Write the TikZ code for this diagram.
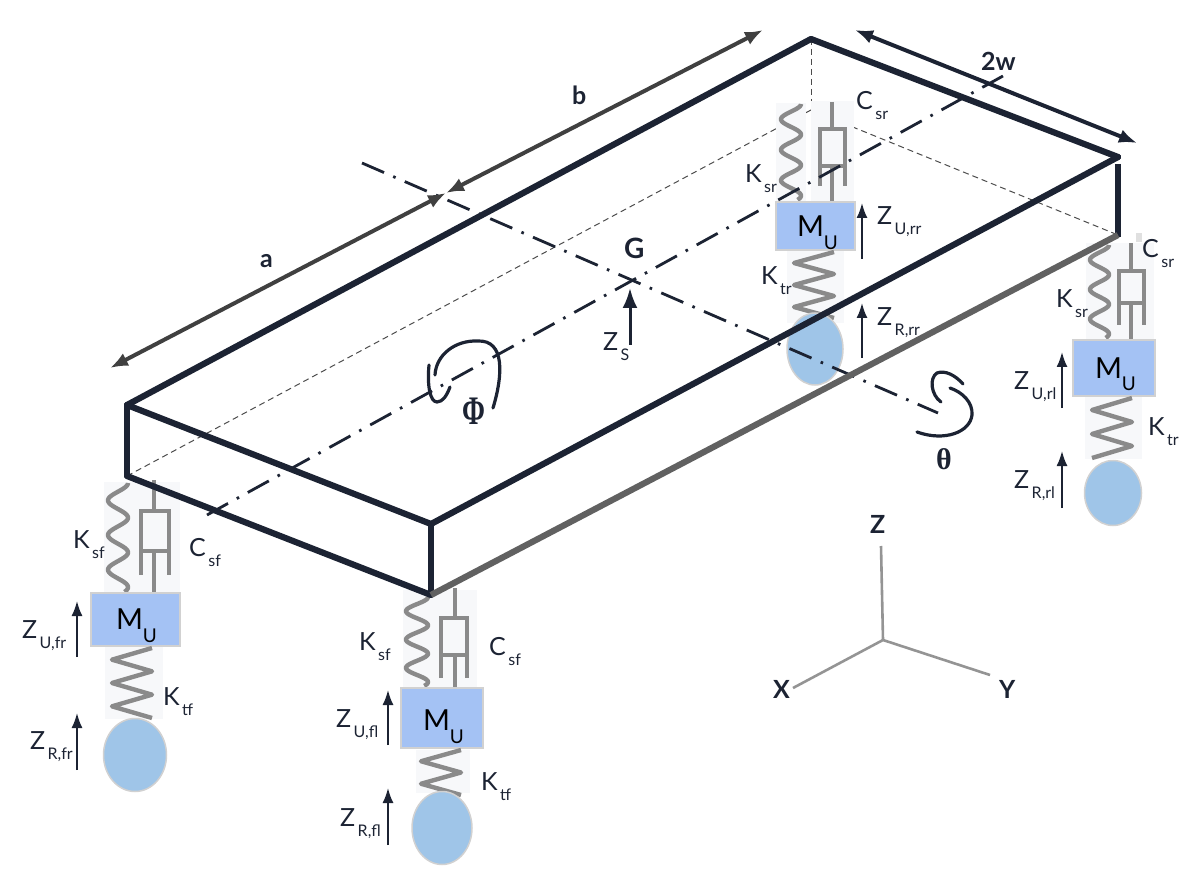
\documentclass[tikz,border=0pt]{standalone}
\usepackage{fontspec}
\usepackage{graphicx}
\setmainfont{Lato}
\newfontfamily\grkfont{Liberation Serif}
\usetikzlibrary{arrows.meta,shapes.geometric}
\definecolor{navy}{HTML}{1C2333}
\definecolor{sgray}{HTML}{8A8A8A}
\definecolor{pale}{HTML}{F7F8FA}
\definecolor{massblue}{HTML}{A4C2F4}
\definecolor{wheelblue}{HTML}{9FC5E8}
\tikzset{
  lbl/.style={anchor=base west,inner sep=0pt,outer sep=0pt,text=navy,font=\fontsize{25}{25}\selectfont},
  blbl/.style={lbl,font=\fontsize{25}{25}\selectfont\bfseries},
  bgbox/.style={fill=pale,draw=none},
  massbox/.style={rectangle,fill=massblue,draw=black!18,line width=1.5pt,inner sep=0pt},
  wheelnode/.style={ellipse,fill=wheelblue,draw=black!18,line width=1.5pt,inner sep=0pt},
  spr/.style={draw=sgray,line width=4.4pt,line join=round},
  dmp/.style={draw=sgray,line width=3.8pt},
  thick edge/.style={draw=navy,line width=6.2pt,line cap=round,line join=round},
  hidden/.style={draw=black!70,line width=1pt,dash pattern=on 6pt off 4pt},
  centreline/.style={draw=navy,line width=2.8pt,dash pattern=on 24pt off 10pt on 2.6pt off 10pt},
  zarrow/.style={draw=navy,line width=1.9pt,-{Latex[length=15pt,width=11pt]}},
  dim/.style={line width=4pt},
  curl/.style={draw=navy,line width=3.2pt,line cap=round},
  axis/.style={draw=black!42,line width=2.6pt},
}
\newcommand{\sublab}[5]{\node[lbl] (#1) at (#2,#3) {#4\raisebox{-10pt}{\fontsize{16}{16}\selectfont\,#5}};}
\newcommand{\masslab}[3]{\node[lbl,text=black] (#1) at (#2,#3) {\fontsize{29}{29}\selectfont M\raisebox{-13pt}{\fontsize{19}{19}\selectfont U}};}
\newcommand{\softspring}[4]{\draw[spr] plot[domain=0:1,samples=120,variable=\t]
  ({(#1+#2)/2+(#2-#1)/2*cos(360*3.14*\t)},{#3+(#4-#3)*\t});}
\newcommand{\tirespring}[5]{\draw[spr] plot[domain=0:#5,samples=#5+1,variable=\t]
  ({(#1+#2)/2+(#2-#1)/2*cos(180*\t)},{#3+(#4-#3)*\t/#5});}
% rod x, left, right, rod top, box top, box bottom, leg end, rod end
\newcommand{\dashpot}[8]{%
  \draw[dmp] (#1,#4) -- (#1,#5);
  \draw[dmp] (#2,#7) -- (#2,#5) -- (#3,#5) -- (#3,#7);
  \draw[dmp] (#2,#6) -- (#3,#6);
  \draw[dmp] (#1,#6) -- (#1,#8);}
\newcommand{\zup}[4]{\coordinate (#1a) at (#2,#3); \coordinate (#1b) at (#2,#4); \draw[zarrow] (#1a) -- (#1b);}
\begin{document}
\begin{tikzpicture}[x=1pt,y=-1pt]
\useasboundingbox (0,0) rectangle (1199,890);
% box corners
\coordinate (A) at (127,405);
\coordinate (B) at (431,524);
\coordinate (C) at (1118,157);
\coordinate (D) at (811,39);
\coordinate (Al) at (127,476);
\coordinate (Bl) at (431,595);
\coordinate (Cl) at (1118,235);
\coordinate (Dl) at (811,110);
% hidden edges
\draw[hidden] (D) -- (Dl);
\draw[hidden] (Al) -- (Dl) -- (Cl);

% --- rear right suspension
\fill[bgbox] (776,103) rectangle (806,202);
\fill[bgbox] (811,101) rectangle (854,202);
\softspring{781}{801}{104}{200}
\dashpot{832}{820}{845}{102}{129}{166}{186}{202}
\node[massbox,minimum width=79pt,minimum height=48pt] (mrr) at (815.5,226) {};
\fill[bgbox] (787,251) rectangle (844,323);
\tirespring{794}{834}{252}{318}{6}
\node[wheelnode,minimum width=56pt,minimum height=72pt] (wrr) at (815,349) {};

% --- rear left suspension
\fill[black!12] (1136,233) rectangle (1142,242);
\fill[bgbox] (1086,243) rectangle (1154,340);
\softspring{1090}{1109}{245}{338}
\dashpot{1131}{1119}{1144}{243}{271}{303}{325}{340}
\node[massbox,minimum width=82pt,minimum height=56pt] (mrl) at (1114,368) {};
\fill[bgbox] (1085,397) rectangle (1142,459);
\tirespring{1092}{1132}{398}{458}{5}
\node[wheelnode,minimum width=57pt,minimum height=65pt] (wrl) at (1113,493) {};

% --- front right suspension
\fill[bgbox] (104,482) rectangle (180,594);
\softspring{108}{128}{483}{592}
\dashpot{154}{141}{169}{480}{511}{551}{575}{594}
\node[massbox,minimum width=89pt,minimum height=53pt] (mfr) at (135.5,619.5) {};
\fill[bgbox] (105,647) rectangle (163,719);
\tirespring{112}{152}{648}{718}{6}
\node[wheelnode,minimum width=63pt,minimum height=73pt] (wfr) at (135,755) {};

% --- front left suspension
\fill[bgbox] (403,590) rectangle (477,688);
\softspring{406}{428}{597}{686}
\dashpot{455}{441}{467}{588}{618}{655}{678}{688}
\node[massbox,minimum width=82pt,minimum height=60pt] (mfl) at (442,718) {};
\fill[bgbox] (416,750) rectangle (470,793);
\tirespring{421}{461}{750}{795}{4}
\node[wheelnode,minimum width=60pt,minimum height=73pt] (wfl) at (442,828) {};

% centre lines
\coordinate (L1) at (207,515);
\coordinate (L2) at (1003,76);
\coordinate (T1) at (362,163);
\coordinate (T2) at (938,413);
\draw[centreline] (L1) -- (L2);
\draw[centreline] (T1) -- (T2);

% body
\draw[thick edge] (A) -- (D) -- (C);
\draw[thick edge] (A) -- (B) -- (C);
\draw[thick edge,line cap=butt] (A) -- (Al);
\draw[thick edge,line cap=butt] (1118,164) -- (1118,237);
\draw[thick edge,line cap=butt] (B) -- (Bl);
\draw[thick edge] (Al) -- (Bl);
\draw[thick edge,draw=black!62,line cap=butt] (Bl) -- (Cl);

% dimension arrows
\coordinate (a1) at (110,368); \coordinate (ab) at (446,193); \coordinate (b2) at (763,30);
\coordinate (w1) at (855,30); \coordinate (w2) at (1137,143);
\draw[dim,draw=black!75,{Latex[length=18pt,width=14pt,black!75]}-{Latex[length=18pt,width=14pt,black!75]}] (a1) -- (ab);
\draw[dim,draw=black!75,{Latex[length=18pt,width=14pt,black!75]}-{Latex[length=18pt,width=14pt,black!75]}] (ab) -- (b2);
\draw[dim,draw=navy,{Latex[length=18pt,width=14pt,navy]}-{Latex[length=18pt,width=14pt,navy]}] (w1) -- (w2);
\node[blbl] (la) at (260,268) {a};
\node[blbl] (lb) at (572,105) {b};
\node[blbl] (lw) at (981,71) {2w};
\node[blbl,font=\fontsize{28}{28}\selectfont\bfseries] (lG) at (624,259) {G};

% Z_S
\coordinate (zsa) at (630,345); \coordinate (zsb) at (630,288);
\draw[draw=navy,line width=3pt,-{Latex[length=20pt,width=15pt]}] (zsa) -- (zsb);
\sublab{lzs}{603}{351}{Z}{S}

% rotation marks
\draw[curl] (493,408) .. controls (503,375) and (505,340) .. (478,341)
  .. controls (455,340) and (436,355) .. (435,375);
\draw[curl] (429,365) .. controls (427,385) and (430,402) .. (437,402)
  .. controls (443,402) and (447,395) .. (450,387);
\node[lbl,font=\fontsize{30}{30}\selectfont\grkfont\bfseries] (lphi) at (462,424) {\scalebox{.92}[1.35]{Φ}};
\draw[curl] (963,384) .. controls (955,375) and (945,370) .. (937,373)
  .. controls (929,378) and (931,395) .. (941,402);
\draw[curl] (950,388) .. controls (962,392) and (973,402) .. (972,415)
  .. controls (970,432) and (945,442) .. (917,432);
\node[lbl,font=\fontsize{30}{30}\selectfont\grkfont\bfseries] (ltheta) at (936,469) {θ};

% coordinate axes
\coordinate (O) at (883,640); \coordinate (Zax) at (881,546);
\coordinate (Xax) at (793,688); \coordinate (Yax) at (990,675);
\draw[axis] (O) -- (Zax);
\draw[axis] (O) -- (Xax);
\draw[axis] (O) -- (Yax);
\node[blbl] (lZ) at (870,533) {Z};
\node[blbl] (lX) at (773,698) {X};
\node[blbl] (lY) at (999,698) {Y};

% suspension arrows
\zup{zufr}{77}{657}{601}
\zup{zrfr}{77}{770}{713}
\zup{zufl}{388}{745}{690}
\zup{zrfl}{388}{845}{788}
\zup{zurr}{862}{259}{203}
\zup{zrrr}{862}{358}{303}
\zup{zurl}{1062}{408}{352}
\zup{zrrl}{1062}{508}{451}

% suspension labels
\sublab{ksfr}{73}{548}{K}{sf}
\sublab{csfr}{189}{556}{C}{sf}
\masslab{mufr}{116}{629}
\sublab{zufrl}{22}{638}{Z}{U,fr}
\sublab{ktfr}{163}{705}{K}{tf}
\sublab{zrfrl}{30}{749}{Z}{R,fr}

\sublab{ksfl}{359}{650}{K}{sf}
\sublab{csfl}{489}{655}{C}{sf}
\masslab{mufl}{423}{730}
\sublab{zufll}{336}{727}{Z}{U,fl}
\sublab{ktfl}{481}{790}{K}{tf}
\sublab{zrfll}{340}{826}{Z}{R,fl}

\sublab{csrr}{856}{110}{C}{sr}
\sublab{ksrr}{745}{183}{K}{sr}
\masslab{murr}{797}{237}
\sublab{zurrl}{877}{225}{Z}{U,rr}
\sublab{ktrr}{761}{285}{K}{tr}
\sublab{zrrrl}{877}{326}{Z}{R,rr}

\sublab{csrl}{1142}{258}{C}{sr}
\sublab{ksrl}{1056}{308}{K}{sr}
\masslab{murl}{1095}{378}
\sublab{zurll}{1014}{389}{Z}{U,rl}
\sublab{ktrl}{1148}{435}{K}{tr}
\sublab{zrrll}{1014}{488}{Z}{R,rl}
\end{tikzpicture}
\end{document}
